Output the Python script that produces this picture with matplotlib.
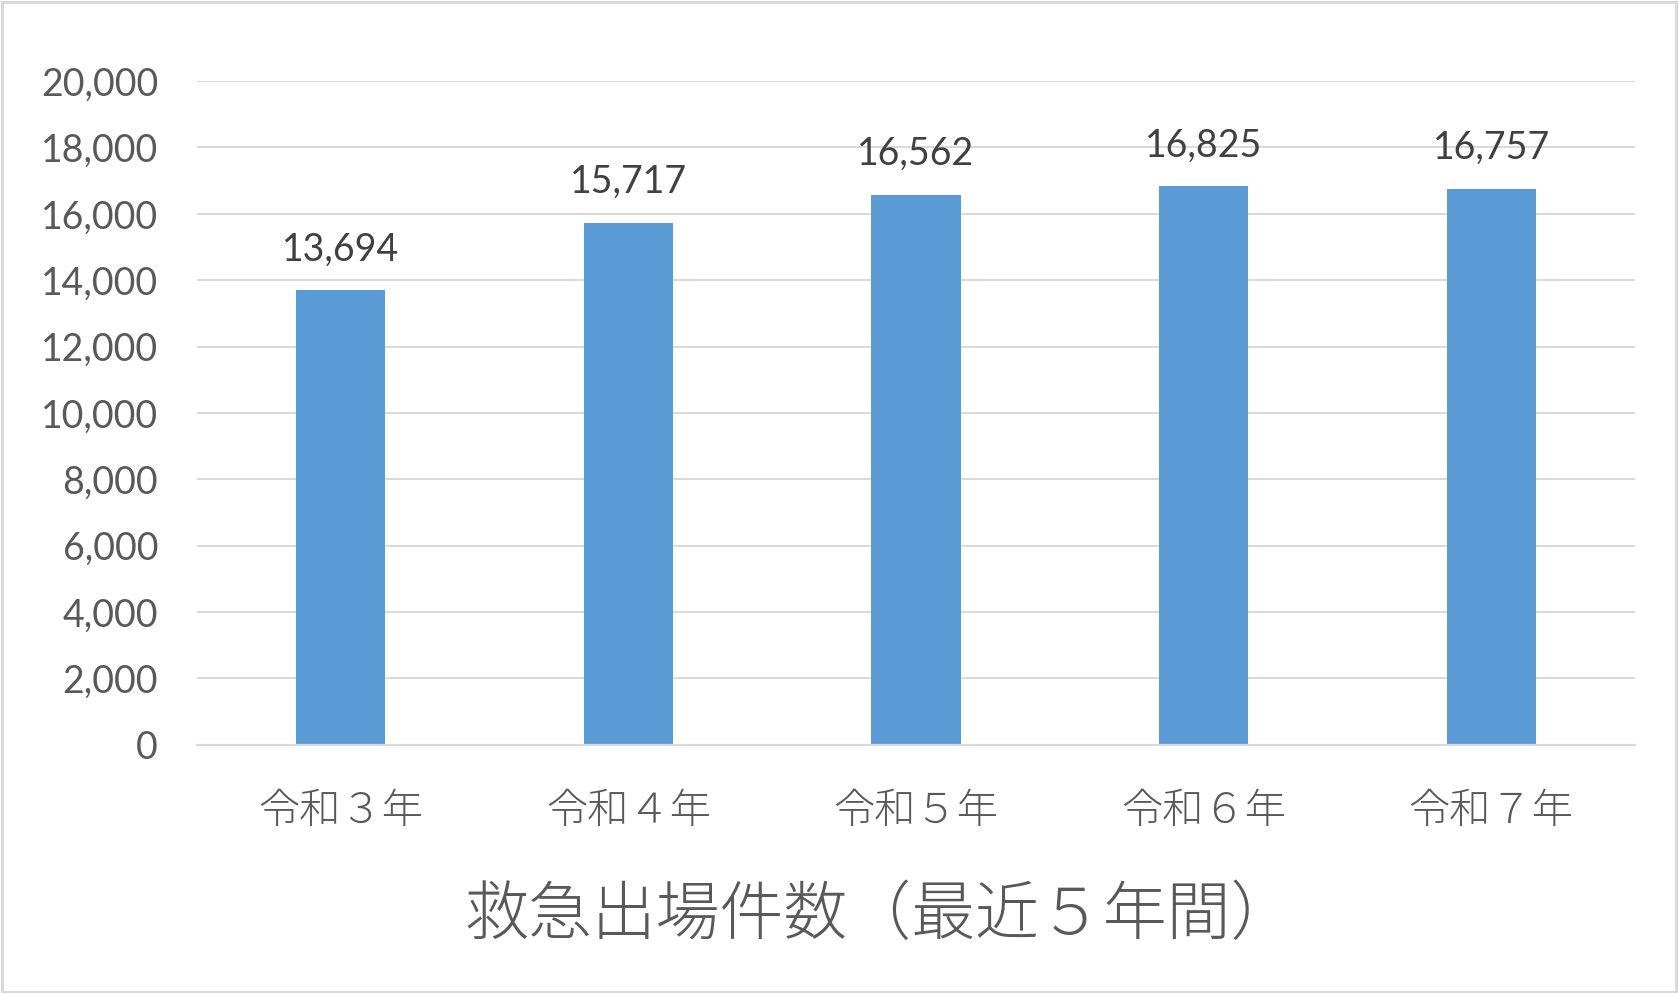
import matplotlib
matplotlib.use("Agg")
import matplotlib.pyplot as plt
from matplotlib.patches import Rectangle
from matplotlib.ticker import FuncFormatter

categories = ["令和３年", "令和４年", "令和５年", "令和６年", "令和７年"]
values = [13694, 15717, 16562, 16825, 16757]
yticks = [0, 2000, 4000, 6000, 8000, 10000, 12000, 14000, 16000, 18000, 20000]
title = "救急出場件数（最近５年間）"

plt.rcParams['font.family'] = ['Lato', 'Noto Sans CJK JP', 'DejaVu Sans']

fig = plt.figure(figsize=(16.79, 9.93), dpi=100)
ax = fig.add_axes([0.1173, 0.25, 0.9738 - 0.1173, 0.9184 - 0.25])

x = list(range(len(categories)))
ax.bar(x, values, width=0.31, color="#5b9bd5", zorder=3)

for xi, v in zip(x, values):
    ax.annotate(f"{v:,}", xy=(xi, v), xytext=(0, 21.6), textcoords="offset points",
                ha="center", va="baseline", fontsize=27, color="#404040",
                family=['Lato', 'DejaVu Sans'])

ax.set_xlim(-0.5, len(categories) - 0.5)
ax.set_ylim(0, 20000)
ax.set_yticks(yticks)
ax.yaxis.set_major_formatter(FuncFormatter(lambda v, p: f"{int(v):,}"))
ax.grid(axis="y", color="#d9d9d9", linewidth=1.4, zorder=0)
ax.set_axisbelow(True)
for s in ["left", "right", "top"]:
    ax.spines[s].set_visible(False)
ax.spines["bottom"].set_color("#d9d9d9")
ax.spines["bottom"].set_linewidth(1.6)
ax.spines["bottom"].set_zorder(4)

ax.tick_params(axis="y", length=0, pad=28, labelsize=27, labelcolor="#595959")
ax.set_xticks(x)
ax.set_xticklabels(categories, family=['Noto Sans CJK JP'], fontweight='light')
ax.tick_params(axis="x", length=0, pad=32, labelsize=29.7, labelcolor="#595959")

fig.text(0.5235, 1 - 917 / 993, title, ha="center", va="center", fontsize=46,
         color="#595959", family=['Noto Sans CJK JP'], fontweight='light')

fig.patches.append(Rectangle((0.001, 0.0015), 0.997, 0.996, transform=fig.transFigure,
                             fill=False, edgecolor="#d9d9d9", linewidth=2.2))

fig.savefig("out.png", dpi=100, facecolor="white")
